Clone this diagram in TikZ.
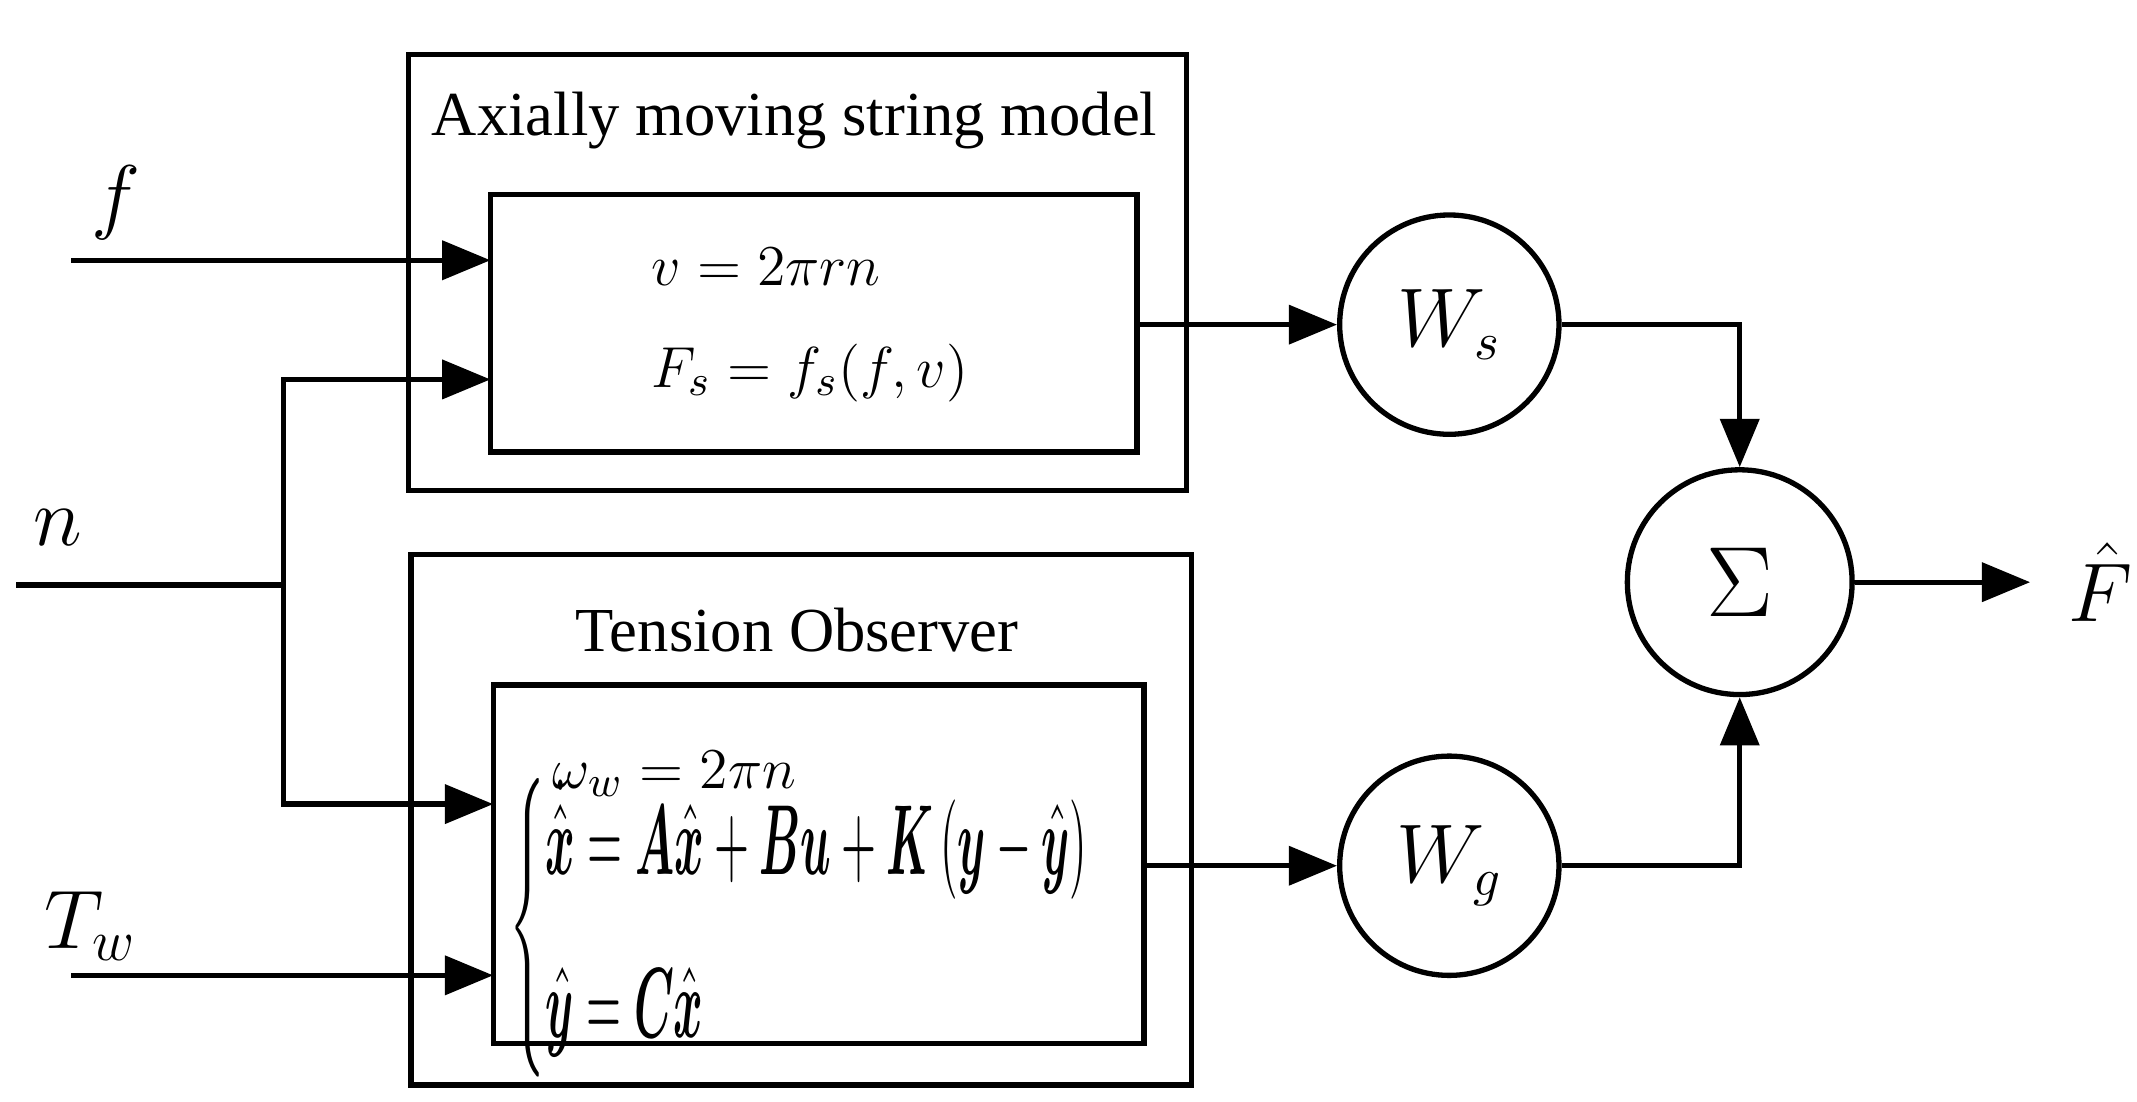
\documentclass[tikz,border=0pt]{standalone}
\usepackage{amsmath,bm}
\usepackage{fontspec}
\setmainfont{Liberation Serif}
\usetikzlibrary{arrows.meta}
\begin{document}
\begin{tikzpicture}[x=0.01cm,y=-0.01cm,line width=1.1pt,
  arr/.style={-{Triangle[length=10pt,width=8pt]}},
  box/.style={draw,line width=1.1pt},
  circ/.style={draw,circle,minimum size=1.6cm,inner sep=0pt,line width=1.1pt},
  lab/.style={font=\fontsize{13}{15}\selectfont},
  eq/.style={font=\fontsize{12.5}{15}\selectfont},
  inl/.style={font=\fontsize{17}{19}\selectfont}]
\useasboundingbox (0,0) rectangle (1560,804);
% boxes
\draw[box] (298,40) rectangle (866,358);
\node[lab] (t1) at (580,88) {Axially moving string model};
\draw[box] (358,142) rectangle (830,330);
\node[eq,anchor=west] (e1) at (462,195) {$v=2\pi rn$};
\node[eq,anchor=west] (e2) at (462,272) {$F_s=f_s(f,v)$};
\draw[box] (300,405) rectangle (870,792);
\node[lab] (t2) at (582,460) {Tension Observer};
\draw[box] (360,500) rectangle (835,762);
\node[eq,anchor=west] (e3) at (390,565) {$\omega_w=2\pi n$};
\node[anchor=west,inner sep=0pt] (e4) at (370,677) {\resizebox{4.58cm}{1.3cm}{$\begin{cases}\dot{\hat{\bm x}}=\bm A\hat{\bm x}+\bm B\bm u+\bm K\left(\bm y-\hat{\bm y}\right)\\[2pt] \hat{\bm y}=\bm C\hat{\bm x}\end{cases}$}};
% inputs
\node[inl] (f) at (85,148) {$f$};
\node[inl] (n) at (42,385) {$n$};
\node[inl] (tw) at (66,676) {$T_w$};
\coordinate (fs) at (52,190); \coordinate (fe) at (358,190);
\coordinate (ns) at (12,427); \coordinate (nj) at (207,427);
\coordinate (nt) at (207,277); \coordinate (nb) at (207,587);
\coordinate (ne1) at (358,277); \coordinate (ne2) at (360,587);
\coordinate (ts) at (52,712); \coordinate (te) at (360,712);
\draw[arr] (fs) -- (fe);
\draw (ns) -- (nj);
\draw[arr] (nb) -- (nt) -- (ne1);
\draw[arr] (nj) -- (nb) -- (ne2);
\draw[arr] (ts) -- (te);
% circles
\node[circ] (ws) at (1058,237) {\fontsize{16}{18}\selectfont$W_s$};
\node[circ] (wg) at (1058,632) {\fontsize{16}{18}\selectfont$W_g$};
\node[circ,minimum size=1.64cm] (sum) at (1270,425) {\fontsize{20}{22}\selectfont$\Sigma$};
\coordinate (o1) at (830,237); \coordinate (o2) at (835,632);
\draw[arr] (o1) -- (ws);
\draw[arr] (o2) -- (wg);
\draw[arr] (ws.east) -| (sum.north);
\draw[arr] (wg.east) -| (sum.south);
\coordinate (out) at (1482,425);
\draw[arr] (sum.east) -- (out);
\node[anchor=west,inner sep=0pt] (F) at (1508,425) {\fontsize{16}{18}\selectfont$\hat F$};
\end{tikzpicture}
\end{document}
